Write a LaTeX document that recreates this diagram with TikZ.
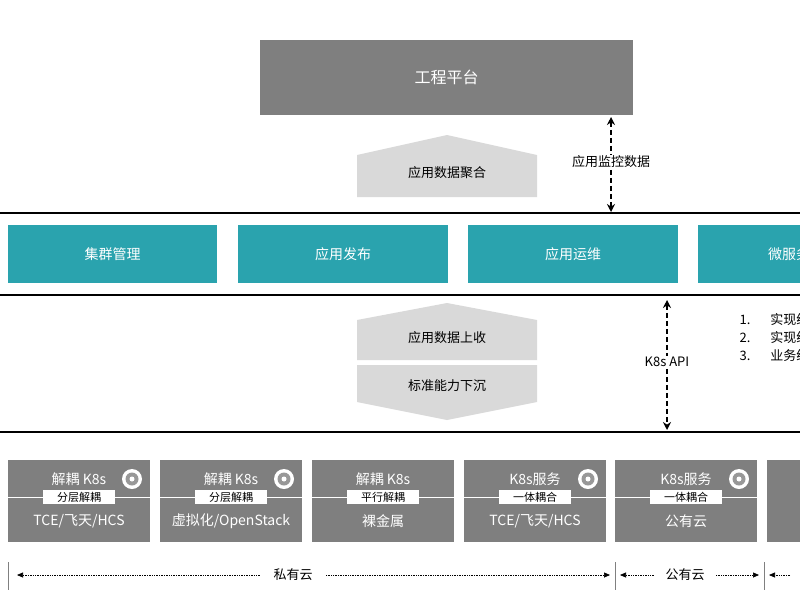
\documentclass[tikz,border=0pt]{standalone}
\usepackage{fontspec}
\setmainfont{Noto Sans CJK SC}
\usetikzlibrary{arrows.meta}
\definecolor{dg}{HTML}{7F7F7F}
\definecolor{lg}{HTML}{D9D9D9}
\definecolor{teal}{HTML}{2AA3AE}
\begin{document}
\begin{tikzpicture}[x=1pt,y=-1pt,
  every node/.style={font=\fontsize{13}{15}\selectfont},
  gbox/.style={fill=dg,draw=none,text=white},
  tbox/.style={fill=teal,text=white,minimum height=58pt,font=\fontsize{14}{16}\selectfont},
  hline/.style={line width=1.6pt},
  dar/.style={dash pattern=on 5pt off 3pt,line width=1.4pt,{Stealth[length=8pt,width=8pt]}-{Stealth[length=8pt,width=8pt]}},
  dot/.style={densely dotted,line width=0.7pt,-{Triangle[length=6pt,width=5pt]}},
  strip/.style={fill=white,inner sep=1pt,minimum width=72pt,minimum height=14pt,font=\fontsize{11}{12}\selectfont}]
\useasboundingbox (0,0) rectangle (800,600);
\clip (0,0) rectangle (800,600);
\node[gbox,minimum width=373pt,minimum height=75pt,font=\fontsize{16}{18}\selectfont] (gc) at (446.5,77.5) {工程平台};
% pentagons
\fill[lg] (357,155)--(447,135)--(537,155)--(537,197)--(357,197)--cycle;
\node (jh) at (447,173) {应用数据聚合};
\fill[lg] (357,320)--(447,303)--(537,320)--(537,360)--(357,360)--cycle;
\node (sc) at (447,338) {应用数据上收};
\fill[lg] (357,365)--(537,365)--(537,402)--(447,420)--(357,402)--cycle;
\node (xc) at (447,386) {标准能力下沉};
% lines
\draw[hline] (0,213) -- (800,213);
\draw[hline] (0,295) -- (800,295);
\draw[hline] (0,432) -- (800,432);
\coordinate (a1) at (611,117); \coordinate (a2) at (611,212);
\draw[dar] (a1) -- (a2);
\node[fill=white,inner sep=1pt] (jk) at (611,162) {应用监控数据};
\coordinate (b1) at (667,300); \coordinate (b2) at (667,430);
\draw[dar] (b1) -- (b2);
\node[fill=white,inner sep=1pt] (api) at (667,362) {K8s API};
% teal
\node[tbox,minimum width=209pt] (t1) at (112.5,254) {集群管理};
\node[tbox,minimum width=210pt] (t2) at (343,254) {应用发布};
\node[tbox,minimum width=210pt] (t3) at (573,254) {应用运维};
\node[tbox,minimum width=210pt] (t4) at (803,254) {微服务治理};
% list
\node[anchor=west] (l1) at (736,320) {1.\hspace{20pt}实现统一};
\node[anchor=west] (l2) at (736,338) {2.\hspace{20pt}实现统一};
\node[anchor=west] (l3) at (736,356) {3.\hspace{20pt}业务统一};
% bottom boxes
\foreach \x/\t/\s/\b/\i in {8/{解耦 K8s}/分层解耦/{TCE/飞天/HCS}/a,160/{解耦 K8s}/分层解耦/{虚拟化/OpenStack}/b,312/{解耦 K8s}/平行解耦/裸金属/c,464/K8s服务/一体耦合/{TCE/飞天/HCS}/d,615/K8s服务/一体耦合/公有云/e}{
  \fill[dg] (\x,460) rectangle ++(142,82);
  \draw[white,line width=0.8pt] (\x,497) -- ++(142,0);
  \node[text=white,font=\fontsize{14}{16}\selectfont] (h\i) at (\x+71,479) {\t};
  \node[strip] (s\i) at (\x+71,497) {\s};
  \node[text=white,font=\fontsize{14}{16}\selectfont] (f\i) at (\x+71,521) {\b};
}
\foreach \x in {8,160,464,615}{
  \fill[white] (\x+124,479) circle (10pt);
  \fill[dg!80!white] (\x+124,479) circle (6.5pt);
  \fill[white] (\x+124,479) circle (2.5pt);
}
\fill[dg] (767,460) rectangle (810,542);
% bracket
\foreach \x/\n in {8/v1,615/v2,764/v3}{\coordinate (\n t) at (\x,562); \coordinate (\n b) at (\x,590); \draw[gray,line width=0.8pt] (\n t) -- (\n b);}
\node (py) at (293,575) {私有云};
\node (gy) at (685,575) {公有云};
\draw[dot] (py.west) ++(-10,0) -- (17,575);
\draw[dot] (py.east) ++(10,0) -- (610,575);
\draw[dot] (gy.west) ++(-8,0) -- (620,575);
\draw[dot] (gy.east) ++(8,0) -- (759,575);
\draw[dot] (790,575) -- (769,575);
\end{tikzpicture}
\end{document}
